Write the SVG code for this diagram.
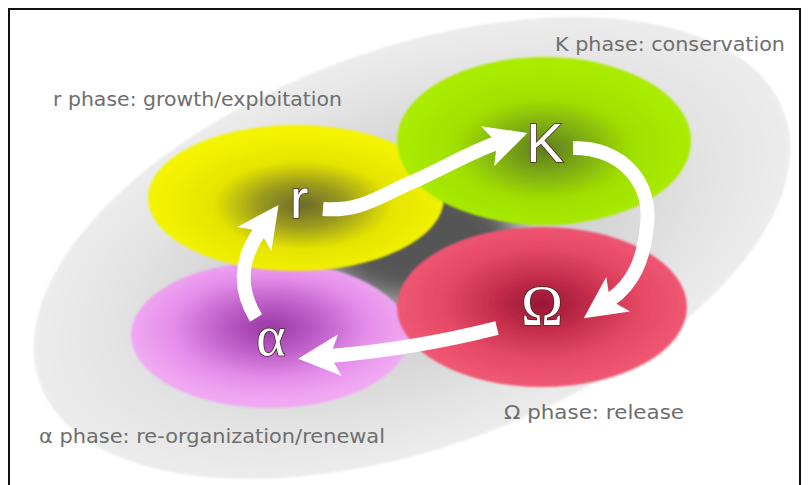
<svg xmlns="http://www.w3.org/2000/svg" width="810" height="485" viewBox="0 0 810 485">
<defs>
<style>
.lbl{font-family:"DejaVu Sans","Liberation Sans",sans-serif;font-size:19px;fill:#6e6e6e}
.big{font-family:"Liberation Sans",Arial,sans-serif;font-size:56px;fill:#ffffff;stroke:#4a2a22;stroke-width:1.6;paint-order:stroke;text-anchor:middle}
.greek{font-family:"Liberation Serif","DejaVu Serif",serif}
.arrow{fill:none;stroke:#ffffff;stroke-width:14;stroke-linecap:butt;marker-end:url(#head)}
</style>
<marker id="head" markerUnits="userSpaceOnUse" markerWidth="42" markerHeight="42" viewBox="0 0 42 42" refX="10" refY="21" orient="auto">
<path d="M0,0 L42,21 L0,42 L10,21 Z" fill="#ffffff"/>
</marker>
<radialGradient id="gBg" cx="0.5" cy="0.5" r="0.5">
<stop offset="0" stop-color="#a9a9a9"/>
<stop offset="0.45" stop-color="#d2d2d2"/>
<stop offset="0.8" stop-color="#e4e4e4"/>
<stop offset="1" stop-color="#ececec"/>
</radialGradient>
<radialGradient id="gY" cx="0.52" cy="0.55" r="0.5">
<stop offset="0" stop-color="#6b6a2c"/>
<stop offset="0.3" stop-color="#9d9c1e"/>
<stop offset="0.6" stop-color="#e4e400"/>
<stop offset="1" stop-color="#f4f400"/>
</radialGradient>
<radialGradient id="gG" cx="0.5" cy="0.55" r="0.5">
<stop offset="0" stop-color="#5e7a22"/>
<stop offset="0.3" stop-color="#7fae12"/>
<stop offset="0.6" stop-color="#a0e000"/>
<stop offset="1" stop-color="#aaec00"/>
</radialGradient>
<radialGradient id="gR" cx="0.5" cy="0.48" r="0.5">
<stop offset="0" stop-color="#961634"/>
<stop offset="0.35" stop-color="#c62e4c"/>
<stop offset="0.7" stop-color="#e64a66"/>
<stop offset="1" stop-color="#ef5672"/>
</radialGradient>
<radialGradient id="gP" cx="0.5" cy="0.45" r="0.5">
<stop offset="0" stop-color="#9a38a4"/>
<stop offset="0.35" stop-color="#be5ec8"/>
<stop offset="0.7" stop-color="#e48eea"/>
<stop offset="1" stop-color="#f1a8f3"/>
</radialGradient>
<filter id="blur" x="-50%" y="-50%" width="200%" height="200%">
<feGaussianBlur stdDeviation="14"/>
</filter>
<filter id="soft" x="-10%" y="-10%" width="120%" height="120%">
<feGaussianBlur stdDeviation="1.2"/>
</filter>
</defs>

<rect x="0" y="0" width="810" height="485" fill="#ffffff"/>
<rect x="9" y="9" width="791" height="490" fill="#ffffff" stroke="#111111" stroke-width="2"/>

<g id="background">
<ellipse cx="412" cy="248" rx="396" ry="199" transform="rotate(-20 412 248)" fill="url(#gBg)" filter="url(#soft)"/>
<ellipse cx="418" cy="238" rx="95" ry="62" fill="#555555" filter="url(#blur)"/>
</g>

<g id="node-alpha">
<ellipse cx="270" cy="335" rx="139" ry="73" fill="url(#gP)" filter="url(#soft)"/>
</g>
<g id="node-r">
<ellipse cx="296" cy="198" rx="148" ry="73" fill="url(#gY)" filter="url(#soft)"/>
</g>
<g id="node-omega">
<ellipse cx="542" cy="307" rx="145" ry="80" fill="url(#gR)" filter="url(#soft)"/>
</g>
<g id="node-K">
<ellipse cx="544" cy="141" rx="147" ry="84" fill="url(#gG)" filter="url(#soft)"/>
</g>

<g id="connectors">
<path class="arrow" d="M323,209 C360,212 380,196 410,183 C440,170 470,152 497,143"/>
<path class="arrow" d="M573,148 C625,148 652,185 647,225 C644,260 633,284 610,300"/>
<path class="arrow" d="M497,328 C450,340 400,350 330,356"/>
<path class="arrow" d="M256,318 C240,292 238,262 260,231"/>
</g>

<g id="letters">
<text class="big" x="299" y="218">r</text>
<text class="big" x="545" y="162">K</text>
<text class="big greek" x="542" y="325" font-size="54">Ω</text>
<text class="big greek" x="271" y="355" font-size="52">α</text>
</g>

<g id="labels">
<text class="lbl" x="53" y="106" textLength="289" lengthAdjust="spacingAndGlyphs">r phase: growth/exploitation</text>
<text class="lbl" x="555" y="51" textLength="230" lengthAdjust="spacingAndGlyphs">K phase: conservation</text>
<text class="lbl" x="504" y="419" textLength="180" lengthAdjust="spacingAndGlyphs">Ω phase: release</text>
<text class="lbl" x="39" y="443" textLength="346" lengthAdjust="spacingAndGlyphs">α phase: re-organization/renewal</text>
</g>
</svg>
